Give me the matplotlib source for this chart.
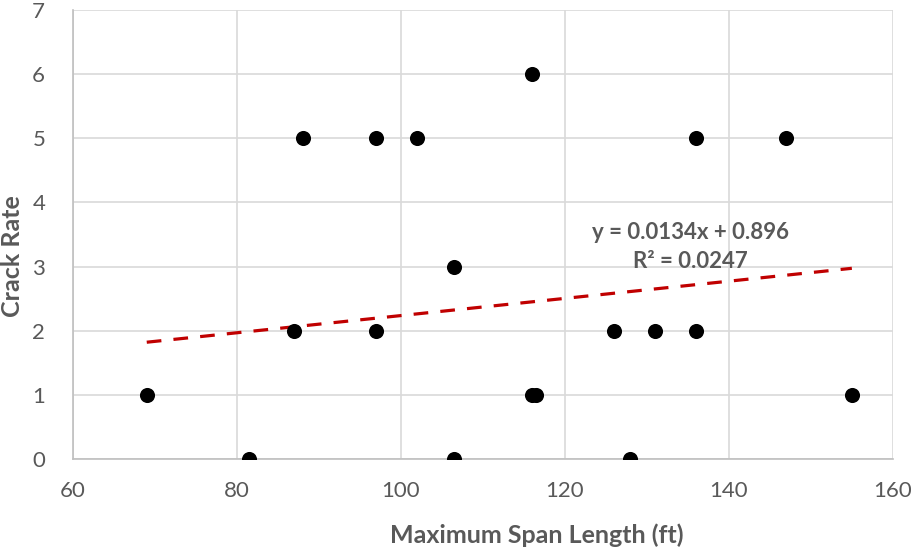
import matplotlib.pyplot as plt
import numpy as np

plt.rcParams['font.family'] = ['Lato', 'DejaVu Sans']

span = [69, 81.5, 87, 88, 97, 97, 102, 106.5, 106.5, 116, 116, 116.5,
        126, 128, 131, 136, 136, 147, 155]
crack = [1, 0, 2, 5, 5, 2, 5, 3, 0, 6, 1, 1, 2, 0, 2, 5, 2, 5, 1]

# trendline as reported by the chart
slope = 0.0134
intercept = 0.896
r2 = 0.0247

xticks = [60, 80, 100, 120, 140, 160]
yticks = [0, 1, 2, 3, 4, 5, 6, 7]

grey = '#595959'

fig = plt.figure(figsize=(9.12, 5.48), dpi=100)
ax = fig.add_axes([0.080, 0.1624, 0.899, 0.8194])

ax.grid(True, color='#D9D9D9', linewidth=1.2, zorder=0)
ax.set_axisbelow(True)

xs = np.array([min(span), max(span)])
ax.plot(xs, slope * xs + intercept, color='#C00000', linewidth=2.3,
        linestyle=(0, (4.6, 3.8)), zorder=2)

ax.scatter(span, crack, s=118, color='black', zorder=3, linewidths=0)

ax.set_xlim(60, 160)
ax.set_ylim(0, 7)
ax.set_xticks(xticks)
ax.set_yticks(yticks)
ax.tick_params(length=0, labelsize=16, labelcolor=grey)
ax.tick_params(axis='x', pad=16)
ax.tick_params(axis='y', pad=20)

for s in ['top', 'right']:
    ax.spines[s].set_visible(False)
for s in ['left', 'bottom']:
    ax.spines[s].set_color('#BFBFBF')
    ax.spines[s].set_linewidth(1.2)

fig.text(0.589, 0.024, 'Maximum Span Length (ft)', fontsize=18,
         fontweight='bold', color=grey, ha='center', va='center')
fig.text(0.014, 0.533, 'Crack Rate', fontsize=18, fontweight='bold',
         color=grey, ha='center', va='center', rotation=90)

ax.text(135.3, 3.30, f'y = {slope}x + {intercept}\nR\u00b2 = {r2}',
        fontsize=16, fontweight='bold', color=grey, ha='center',
        va='center', multialignment='center', linespacing=1.45)

fig.savefig('out.png', dpi=100)
